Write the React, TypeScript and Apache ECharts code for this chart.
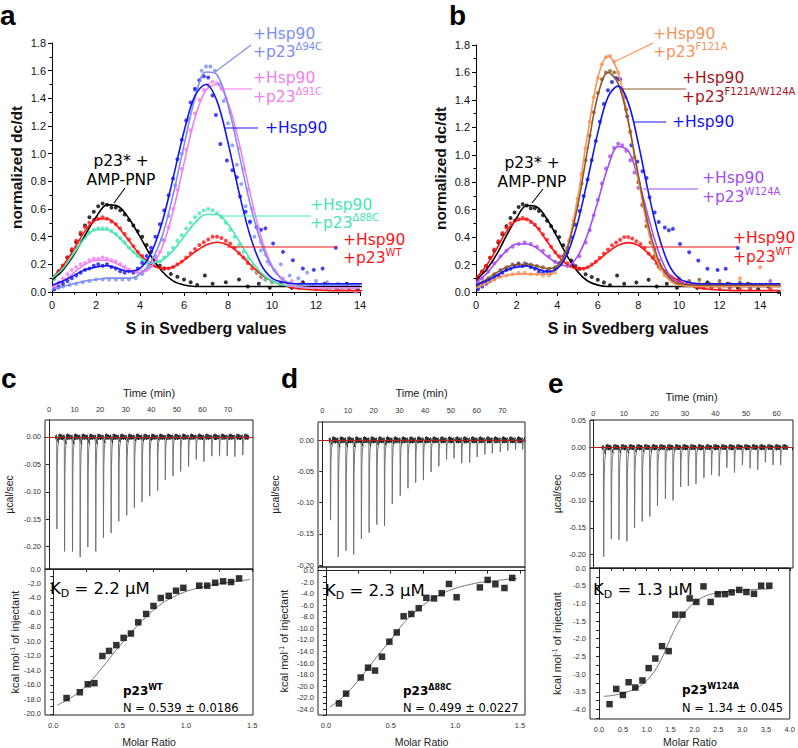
import React, { useEffect, useRef } from 'react';
import * as echarts from 'echarts';

// ---------- Panels a / b : sedimentation velocity, [S, normalized dc/dt] ----------
const blackPts = [[0.1,0.11],[0.3,0.15],[0.5,0.19],[0.7,0.25],[0.9,0.30],[1.1,0.36],[1.3,0.42],[1.5,0.48],[1.7,0.54],[1.9,0.58],[2.1,0.62],[2.3,0.64],[2.5,0.63],[2.7,0.61],[2.9,0.61],[3.1,0.59],[3.3,0.56],[3.5,0.52],[3.7,0.48],[3.9,0.44],[4.1,0.40],[4.3,0.34],[4.5,0.29],[4.7,0.23],[4.9,0.19],[5.1,0.17],[5.4,0.13],[5.7,0.11],[6.0,0.09],[6.3,0.07],[6.6,0.05],[6.95,0.12],[7.3,0.06],[7.9,0.07],[8.5,0.09],[8.9,0.04],[9.4,0.06],[9.9,0.03],[10.4,0.06],[10.9,0.03],[11.4,0.07],[11.9,0.05],[12.4,0.06],[12.9,0.03],[13.4,0.06],[13.9,0.02],[14.4,0.04],[14.9,0.0]];
const blackFit = [[0,0.09],[0.5,0.16],[1,0.27],[1.5,0.41],[2,0.54],[2.5,0.63],[3,0.62],[3.5,0.53],[4,0.40],[4.5,0.26],[5,0.15],[5.5,0.08],[6,0.05],[6.5,0.04],[7,0.04],[8,0.04],[9,0.04],[10,0.04],[11,0.04],[12,0.04],[13,0.04],[14,0.04],[15,0.04]];

const redPts = [[0.1,0.10],[0.3,0.14],[0.5,0.19],[0.7,0.25],[0.9,0.31],[1.1,0.37],[1.3,0.43],[1.5,0.47],[1.7,0.50],[1.9,0.52],[2.1,0.53],[2.3,0.54],[2.5,0.53],[2.7,0.51],[2.9,0.49],[3.1,0.46],[3.3,0.42],[3.5,0.38],[3.7,0.33],[3.9,0.29],[4.1,0.26],[4.3,0.23],[4.5,0.21],[4.7,0.19],[4.9,0.18],[5.1,0.17],[5.3,0.17],[5.5,0.18],[5.7,0.20],[5.9,0.22],[6.1,0.25],[6.3,0.28],[6.5,0.31],[6.7,0.34],[6.9,0.36],[7.1,0.38],[7.3,0.40],[7.5,0.40],[7.7,0.39],[7.9,0.37],[8.1,0.35],[8.3,0.32],[8.5,0.28],[8.7,0.25],[8.9,0.21],[9.1,0.17],[9.3,0.14],[9.5,0.11],[9.7,0.09],[10.0,0.07],[10.4,0.05],[10.8,0.04],[11.2,0.03],[11.6,0.03],[12.0,0.02],[12.5,0.03],[13.0,0.02],[13.5,0.02],[14.5,0.02]];
const redFit = [[0,0.10],[0.5,0.19],[1,0.31],[1.5,0.44],[2,0.52],[2.5,0.53],[3,0.47],[3.5,0.37],[4,0.27],[4.5,0.20],[5,0.17],[5.5,0.18],[6,0.23],[6.5,0.29],[7,0.34],[7.5,0.36],[8,0.34],[8.5,0.28],[9,0.20],[9.5,0.13],[10,0.08],[10.5,0.05],[11,0.03],[11.5,0.02],[12,0.015],[13,0.01],[14,0.01],[15,0.01]];

const aquaPts = [[0.1,0.09],[0.3,0.13],[0.5,0.17],[0.7,0.22],[0.9,0.27],[1.1,0.32],[1.3,0.37],[1.5,0.40],[1.7,0.43],[1.9,0.45],[2.1,0.46],[2.3,0.46],[2.5,0.46],[2.7,0.44],[2.9,0.42],[3.1,0.39],[3.3,0.36],[3.5,0.32],[3.7,0.29],[3.9,0.26],[4.1,0.23],[4.3,0.21],[4.5,0.20],[4.7,0.21],[4.9,0.22],[5.1,0.25],[5.3,0.28],[5.5,0.32],[5.7,0.37],[5.9,0.41],[6.1,0.46],[6.3,0.50],[6.5,0.54],[6.7,0.57],[6.9,0.59],[7.1,0.60],[7.3,0.59],[7.5,0.57],[7.7,0.54],[7.9,0.50],[8.1,0.45],[8.3,0.40],[8.5,0.34],[8.7,0.29],[8.9,0.24],[9.1,0.19],[9.3,0.15],[9.5,0.12],[9.7,0.09],[10.0,0.07],[10.4,0.05],[10.8,0.05],[11.2,0.04],[11.6,0.03],[12.0,0.04],[12.6,0.02],[13.2,0.03],[13.8,0.03]];
const aquaFit = [[0,0.10],[0.5,0.17],[1,0.28],[1.5,0.39],[2,0.45],[2.5,0.45],[3,0.40],[3.5,0.32],[4,0.25],[4.5,0.21],[5,0.23],[5.5,0.30],[6,0.40],[6.5,0.50],[7,0.56],[7.5,0.56],[8,0.49],[8.5,0.37],[9,0.24],[9.5,0.14],[10,0.08],[10.5,0.05],[11,0.04],[12,0.03],[13,0.03],[14,0.03]];

const pinkPts = [[0.1,0.04],[0.3,0.07],[0.5,0.10],[0.7,0.13],[0.9,0.16],[1.1,0.18],[1.3,0.20],[1.5,0.21],[1.7,0.23],[1.9,0.24],[2.1,0.24],[2.3,0.25],[2.5,0.24],[2.7,0.23],[2.9,0.22],[3.1,0.20],[3.3,0.18],[3.5,0.16],[3.7,0.15],[3.9,0.14],[4.1,0.15],[4.3,0.16],[4.5,0.19],[4.7,0.23],[4.9,0.29],[5.1,0.37],[5.3,0.47],[5.5,0.60],[5.7,0.74],[5.9,0.89],[6.1,1.03],[6.3,1.17],[6.5,1.29],[6.7,1.39],[6.9,1.46],[7.1,1.50],[7.3,1.52],[7.5,1.51],[7.7,1.47],[7.9,1.40],[8.1,1.30],[8.3,1.18],[8.5,1.04],[8.7,0.89],[8.9,0.74],[9.1,0.60],[9.3,0.47],[9.5,0.36],[9.7,0.27],[9.9,0.20],[10.2,0.14],[10.5,0.10],[10.9,0.08],[11.3,0.06],[11.7,0.05],[12.2,0.04],[12.7,0.04],[13.2,0.02],[13.8,0.0]];
const pinkFit = [[0,0.03],[0.5,0.08],[1,0.14],[1.5,0.20],[2,0.23],[2.5,0.23],[3,0.20],[3.5,0.16],[4,0.14],[4.5,0.18],[5,0.32],[5.5,0.58],[6,0.93],[6.5,1.26],[7,1.46],[7.5,1.50],[8,1.37],[8.5,1.08],[9,0.72],[9.5,0.40],[10,0.19],[10.5,0.08],[11,0.04],[12,0.03],[13,0.03],[14,0.03]];

const ltBluePts = [[0.1,0.02],[0.3,0.03],[0.5,0.04],[0.8,0.05],[1.1,0.06],[1.4,0.07],[1.7,0.08],[2.0,0.09],[2.3,0.09],[2.6,0.09],[2.9,0.09],[3.2,0.09],[3.5,0.09],[3.8,0.10],[4.1,0.13],[4.4,0.18],[4.7,0.26],[5.0,0.38],[5.3,0.55],[5.6,0.77],[5.9,1.00],[6.2,1.25],[6.5,1.46],[6.8,1.60],[7.0,1.63],[7.2,1.63],[7.4,1.60],[7.6,1.50],[7.8,1.38],[8.0,1.22],[8.2,1.06],[8.4,0.92],[8.6,0.78],[8.8,0.62],[9.0,0.50],[9.2,0.40],[9.5,0.30],[9.8,0.22],[10.1,0.16],[10.4,0.20],[10.8,0.12],[11.2,0.10],[11.6,0.14],[12.0,0.08],[12.5,0.07],[13.0,0.06]];
const ltBlueFit = [[0,0.02],[0.5,0.04],[1,0.06],[1.5,0.08],[2,0.09],[2.5,0.10],[3,0.10],[3.5,0.10],[4,0.13],[4.5,0.22],[5,0.40],[5.5,0.70],[6,1.06],[6.5,1.40],[7,1.59],[7.5,1.57],[8,1.35],[8.5,1.00],[9,0.64],[9.5,0.36],[10,0.18],[10.5,0.09],[11,0.06],[12,0.05],[13,0.05],[14,0.05]];

const bluePts = [[0.1,0.02],[0.3,0.04],[0.5,0.06],[0.7,0.08],[0.9,0.10],[1.1,0.12],[1.3,0.14],[1.5,0.16],[1.7,0.17],[1.9,0.19],[2.1,0.20],[2.3,0.19],[2.5,0.20],[2.7,0.18],[2.9,0.17],[3.1,0.15],[3.3,0.14],[3.5,0.15],[3.7,0.14],[3.9,0.17],[4.1,0.21],[4.3,0.26],[4.5,0.32],[4.7,0.40],[4.9,0.49],[5.1,0.59],[5.3,0.70],[5.5,0.82],[5.7,0.96],[5.9,1.10],[6.1,1.24],[6.3,1.37],[6.5,1.47],[6.7,1.53],[6.9,1.56],[7.1,1.55],[7.3,1.42],[7.45,1.28],[7.65,1.07],[7.95,0.95],[8.2,0.88],[8.4,0.83],[8.55,0.69],[8.8,0.58],[9.0,0.51],[9.3,0.47],[9.5,0.45],[9.7,0.46],[10.05,0.35],[10.5,0.29],[10.95,0.23],[11.4,0.17],[11.9,0.16],[12.3,0.17],[12.9,0.32]];
const blueFit = [[0,0.05],[0.5,0.08],[1,0.12],[1.5,0.16],[2,0.18],[2.5,0.19],[3,0.17],[3.5,0.15],[4,0.17],[4.5,0.28],[5,0.50],[5.5,0.82],[6,1.16],[6.5,1.42],[7,1.50],[7.5,1.38],[8,1.08],[8.5,0.72],[9,0.41],[9.5,0.20],[10,0.10],[10.5,0.07],[11,0.06],[12,0.06],[13,0.06],[14,0.06],[15,0.06]];

const orangePts = [[0.1,0.03],[0.3,0.05],[0.6,0.07],[0.9,0.09],[1.2,0.11],[1.5,0.12],[1.8,0.13],[2.1,0.14],[2.4,0.14],[2.7,0.13],[3.0,0.13],[3.3,0.12],[3.6,0.12],[3.9,0.14],[4.2,0.20],[4.4,0.28],[4.6,0.38],[4.8,0.52],[5.0,0.68],[5.2,0.86],[5.4,1.05],[5.6,1.24],[5.8,1.42],[6.0,1.56],[6.2,1.66],[6.4,1.71],[6.6,1.72],[6.8,1.68],[7.0,1.60],[7.2,1.48],[7.4,1.33],[7.6,1.16],[7.8,0.98],[8.0,0.80],[8.2,0.64],[8.4,0.48],[8.6,0.36],[8.8,0.26],[9.0,0.18],[9.3,0.12],[9.6,0.09],[10.0,0.07],[10.5,0.06],[11.0,0.06],[11.5,0.05],[12.0,0.06],[12.5,0.05],[13.0,0.10],[13.5,0.06],[14.0,0.18],[14.4,0.05]];
const orangeFit = [[0,0.03],[0.5,0.06],[1,0.10],[1.5,0.12],[2,0.13],[2.5,0.13],[3,0.13],[3.5,0.13],[4,0.17],[4.5,0.33],[5,0.68],[5.5,1.15],[6,1.56],[6.5,1.72],[7,1.60],[7.5,1.25],[8,0.82],[8.5,0.44],[9,0.20],[9.5,0.09],[10,0.05],[11,0.04],[12,0.04],[13,0.04],[14,0.04],[15,0.04]];

const brownPts = [[0.1,0.05],[0.3,0.07],[0.6,0.10],[0.9,0.13],[1.2,0.16],[1.5,0.18],[1.8,0.20],[2.1,0.21],[2.4,0.21],[2.7,0.20],[3.0,0.19],[3.3,0.18],[3.6,0.17],[3.9,0.18],[4.2,0.22],[4.4,0.28],[4.6,0.37],[4.8,0.49],[5.0,0.63],[5.2,0.79],[5.4,0.96],[5.6,1.14],[5.8,1.31],[6.0,1.45],[6.2,1.55],[6.4,1.60],[6.6,1.61],[6.8,1.60],[7.0,1.55],[7.2,1.46],[7.4,1.33],[7.6,1.17],[7.8,0.98],[8.0,0.80],[8.2,0.63],[8.4,0.48],[8.6,0.36],[8.8,0.26],[9.0,0.19],[9.3,0.14],[9.6,0.11],[10.0,0.10],[10.5,0.08],[11.0,0.09],[11.5,0.06],[12.0,0.08],[12.5,0.06],[13.0,0.07],[13.5,0.05],[14.0,0.05]];
const brownFit = [[0,0.05],[0.5,0.09],[1,0.14],[1.5,0.18],[2,0.20],[2.5,0.20],[3,0.19],[3.5,0.17],[4,0.19],[4.5,0.32],[5,0.62],[5.5,1.04],[6,1.43],[6.5,1.60],[7,1.52],[7.5,1.24],[8,0.85],[8.5,0.48],[9,0.23],[9.5,0.11],[10,0.06],[11,0.05],[12,0.05],[13,0.05],[14,0.05],[15,0.05]];

const purplePts = [[0.1,0.07],[0.3,0.10],[0.6,0.15],[0.9,0.21],[1.2,0.26],[1.5,0.30],[1.8,0.33],[2.1,0.35],[2.4,0.36],[2.7,0.35],[3.0,0.33],[3.3,0.30],[3.6,0.26],[3.9,0.22],[4.2,0.20],[4.5,0.19],[4.8,0.20],[5.1,0.26],[5.4,0.36],[5.6,0.45],[5.8,0.56],[6.0,0.67],[6.2,0.79],[6.4,0.90],[6.6,0.99],[6.8,1.05],[7.0,1.08],[7.2,1.07],[7.4,1.03],[7.6,0.96],[7.8,0.87],[8.0,0.76],[8.2,0.64],[8.4,0.52],[8.6,0.41],[8.8,0.31],[9.0,0.23],[9.3,0.15],[9.6,0.10],[10.0,0.08],[10.5,0.06],[11.0,0.05],[11.5,0.05],[12.0,0.05],[12.5,0.04],[13.0,0.06],[13.5,0.04],[14.0,0.05],[14.5,0.08]];
const purpleFit = [[0,0.07],[0.5,0.13],[1,0.22],[1.5,0.30],[2,0.35],[2.5,0.35],[3,0.32],[3.5,0.26],[4,0.21],[4.5,0.19],[5,0.26],[5.5,0.42],[6,0.66],[6.5,0.91],[7,1.06],[7.5,1.03],[8,0.82],[8.5,0.54],[9,0.29],[9.5,0.13],[10,0.07],[11,0.05],[12,0.05],[13,0.05],[14,0.05],[15,0.05]];

// ---------- Panels c / d / e : ITC ----------
// raw thermogram: injection time (min) and peak depth (µcal/sec)
const cInjTime = [3.0,6.0,9.1,12.1,15.1,18.2,21.2,24.2,27.2,30.3,33.3,36.3,39.3,42.4,45.4,48.4,51.4,54.5,57.5,60.5,63.6,66.6,69.6,72.6,75.7];
const cInjPeak = [-0.168,-0.209,-0.209,-0.219,-0.201,-0.209,-0.184,-0.175,-0.154,-0.143,-0.129,-0.119,-0.108,-0.098,-0.078,-0.071,-0.063,-0.054,-0.041,-0.045,-0.035,-0.035,-0.035,-0.036,-0.033];
const dInjTime = [3.1,6.1,9.1,12.1,15.1,18.1,21.1,24.1,27.1,30.2,33.2,36.2,39.2,42.2,45.2,48.2,51.1,54.1,57.2,60.1,63.1,66.0,69.1,72.0,75.0,77.8];
const dInjPeak = [-0.128,-0.187,-0.177,-0.183,-0.158,-0.148,-0.135,-0.137,-0.102,-0.089,-0.077,-0.068,-0.064,-0.051,-0.042,-0.031,-0.029,-0.037,-0.036,-0.027,-0.023,-0.021,-0.019,-0.017,-0.015,-0.015];
const eInjTime = [3.3,5.8,8.3,10.9,13.4,15.9,18.4,20.9,23.5,26.0,28.5,31.0,33.5,36.1,38.6,41.1,43.6,46.1,48.7,51.2,53.7,56.2,58.7,61.2];
const eInjPeak = [-0.204,-0.171,-0.172,-0.175,-0.150,-0.138,-0.129,-0.109,-0.096,-0.099,-0.074,-0.072,-0.068,-0.057,-0.051,-0.054,-0.038,-0.047,-0.033,-0.039,-0.042,-0.028,-0.033,-0.033];

// integrated heats: molar ratio and kcal/mol of injectant
const cRatio = [0.10,0.20,0.26,0.31,0.37,0.42,0.475,0.53,0.585,0.64,0.70,0.755,0.81,0.87,0.925,0.98,1.10,1.16,1.22,1.28,1.34,1.40];
const cHeat = [-17.8,-17.0,-15.9,-15.75,-12.0,-11.3,-10.5,-9.5,-8.9,-7.35,-6.2,-5.1,-4.0,-3.7,-3.0,-2.6,-2.3,-2.3,-1.9,-1.7,-1.8,-1.3];
const cFit = [[0.03,-18.8],[0.1,-18.1],[0.2,-16.9],[0.3,-15.1],[0.4,-12.9],[0.5,-10.6],[0.6,-8.5],[0.7,-6.6],[0.8,-5.0],[0.9,-3.9],[1.0,-3.1],[1.1,-2.6],[1.2,-2.2],[1.3,-1.9],[1.4,-1.65],[1.48,-1.45]];

const dRatio = [0.10,0.155,0.268,0.325,0.379,0.433,0.49,0.547,0.60,0.66,0.717,0.776,0.835,0.895,0.951,1.01,1.19,1.25,1.31,1.38,1.44];
const dHeat = [-23.0,-21.3,-18.5,-16.8,-17.3,-14.9,-12.3,-10.7,-7.9,-7.5,-6.5,-4.7,-4.8,-3.9,-2.3,-4.6,-2.9,-1.6,-2.35,-3.0,-1.25];
const dFit = [[0.03,-23.6],[0.1,-22.5],[0.2,-20.3],[0.3,-17.6],[0.4,-14.7],[0.5,-12.0],[0.6,-9.1],[0.7,-6.9],[0.8,-5.2],[0.9,-3.95],[1.0,-3.05],[1.1,-2.45],[1.2,-2.0],[1.3,-1.75],[1.4,-1.5],[1.48,-1.35]];

const eRatio = [0.22,0.36,0.50,0.62,0.76,0.91,1.04,1.18,1.32,1.46,1.60,1.75,1.90,2.04,2.19,2.34,2.49,2.64,2.78,2.94,3.09,3.25,3.40,3.57];
const eHeat = [-3.85,-3.42,-3.59,-3.23,-3.38,-3.18,-2.83,-2.56,-2.21,-2.35,-1.32,-1.32,-0.86,-0.96,-0.52,-0.96,-0.74,-0.74,-0.69,-0.62,-0.68,-0.73,-0.50,-0.50];
const eFit = [[0.1,-3.63],[0.3,-3.6],[0.5,-3.54],[0.7,-3.45],[0.9,-3.3],[1.1,-3.03],[1.3,-2.6],[1.5,-1.98],[1.7,-1.45],[1.9,-1.1],[2.1,-0.88],[2.3,-0.76],[2.5,-0.70],[2.8,-0.65],[3.1,-0.62],[3.4,-0.60],[3.6,-0.59]];

// tick label positions
const timeTicksCD = [0,10,20,30,40,50,60,70];
const timeTicksE = [0,10,20,30,40,50,60];
const ucalTicks = [0,-0.05,-0.1,-0.15,-0.2];
const ucalTicksE = [0.05,0,-0.05,-0.1,-0.15,-0.2];
const kcalTicksC = [0,-2,-4,-6,-8,-10,-12,-14,-16,-18,-20];
const kcalTicksD = [0,-2,-4,-6,-8,-10,-12,-14,-16,-18,-20,-22,-24];
const kcalTicksE = [0,-0.5,-1,-1.5,-2,-2.5,-3,-3.5,-4];
const ratioTicksCD = [0,0.5,1,1.5];
const ratioTicksE = [0,0.5,1,1.5,2,2.5,3,3.5,4];

const C = {
  black: '#000000', red: '#ff1414', aqua: '#45e6b4', pink: '#f27ef0', ltBlue: '#7c8ef2',
  blue: '#1414f0', orange: '#f7945a', brown: '#8b5a2b', darkRed: '#a3141c', purple: '#a44cf0',
};

const W = 798, H = 748;
const FF = 'Liberation Sans, Arial, sans-serif';
const DJ = 'DejaVu Sans, Verdana, sans-serif';

function range(a: number, b: number, s: number) {
  const out: number[] = [];
  for (let v = a; v <= b + 1e-9; v += s) out.push(Math.round(v * 1000) / 1000);
  return out;
}

function spikeItem(params: any, api: any) {
  const t = api.value(0), d = api.value(1);
  const needle = [[-0.3,0.0],[0,d*0.05],[0.1,d],[0.25,d*0.3],[0.45,d*0.12],[0.75,d*0.05]];
  const noise = [[-0.5,0.003],[-0.3,-0.004],[-0.1,0.004],[0.6,d*0.06],[0.9,0.005],[1.1,-0.005],[1.3,0.006],[1.5,-0.004],[1.7,0.005],[1.9,-0.005],[2.1,0.004],[2.3,-0.004],[2.5,0.003]];
  const toPx = (arr: number[][]) => arr.map(([dt, v]) => api.coord([t + dt, v]));
  return {
    type: 'group',
    children: [
      { type: 'polyline', shape: { points: toPx(needle) }, style: { stroke: '#6a6a6a', fill: 'none', lineWidth: 0.9 } },
      { type: 'polyline', shape: { points: toPx(noise) }, style: { stroke: '#1a1a1a', fill: 'none', lineWidth: 0.8 } },
    ],
  };
}

function buildOption() {
  const grid = [
    { left: 52, top: 43, width: 308, height: 249 },
    { left: 476, top: 45, width: 304.5, height: 247 },
    { left: 45, top: 420, width: 208, height: 149, show: true, borderColor: '#222', borderWidth: 1 },
    { left: 45, top: 569, width: 208, height: 147, show: true, borderColor: '#222', borderWidth: 1 },
    { left: 318, top: 422, width: 207, height: 145, show: true, borderColor: '#222', borderWidth: 1 },
    { left: 318, top: 567, width: 207, height: 149, show: true, borderColor: '#222', borderWidth: 1 },
    { left: 590, top: 420, width: 203, height: 148, show: true, borderColor: '#222', borderWidth: 1 },
    { left: 590, top: 568, width: 203, height: 152, show: true, borderColor: '#222', borderWidth: 1 },
  ];

  const sAxis = (gi: number, max: number) => ({
    gridIndex: gi, type: 'value', min: 0, max, interval: 2,
    axisLine: { lineStyle: { color: '#000', width: 1 } },
    axisTick: { length: 4, lineStyle: { color: '#000' } },
    minorTick: { show: true, splitNumber: 2, length: 2.5, lineStyle: { color: '#000' } },
    axisLabel: { fontSize: 11, color: '#111', margin: 7, fontFamily: FF, formatter: (v: number) => (Math.abs(v % 2) < 1e-9 ? String(v) : '') },
    splitLine: { show: false }, minorSplitLine: { show: false },
    name: 'S in Svedberg values', nameLocation: 'middle', nameGap: 28,
    nameTextStyle: { fontSize: 16, fontWeight: 'bold', color: '#111', fontFamily: FF },
  });
  const dcAxis = (gi: number) => ({
    gridIndex: gi, type: 'value', min: 0, max: 1.8, interval: 0.2,
    axisLine: { show: true, lineStyle: { color: '#000' } },
    axisTick: { show: true, length: 4, lineStyle: { color: '#000' } },
    minorTick: { show: true, splitNumber: 2, length: 2.5, lineStyle: { color: '#000' } },
    axisLabel: { fontSize: 11, color: '#111', margin: 6, fontFamily: FF, formatter: (v: number) => v.toFixed(1) },
    splitLine: { show: false }, minorSplitLine: { show: false },
    name: 'normalized dc/dt', nameLocation: 'middle', nameGap: 28,
    nameTextStyle: { fontSize: 15.5, fontWeight: 'bold', color: '#111', fontFamily: FF },
  });

  const smallLabel = { fontSize: 7.5, color: '#333', fontFamily: FF };
  const timeAxis = (gi: number, min: number, max: number, labels: number[], gap: number, margin: number) => ({
    gridIndex: gi, type: 'value', position: 'top', min, max,
    axisLine: { show: true, lineStyle: { color: '#222' } },
    axisTick: { show: true, inside: true, length: 3, customValues: range(0, max, 5), lineStyle: { color: '#222' } },
    axisLabel: { ...smallLabel, margin, customValues: labels, formatter: (v: number) => String(Math.round(v)) },
    splitLine: { show: false },
    name: 'Time (min)', nameLocation: 'middle', nameGap: gap,
    nameTextStyle: { fontSize: 11, color: '#222', fontFamily: FF },
  });
  const ucalAxis = (gi: number, min: number, max: number, labels: number[], gap: number) => ({
    gridIndex: gi, type: 'value', min, max,
    axisLine: { show: true, lineStyle: { color: '#222' } },
    axisTick: { show: true, length: 3, customValues: labels, lineStyle: { color: '#222' } },
    axisLabel: { ...smallLabel, margin: 4, customValues: labels, formatter: (v: number) => v.toFixed(2) },
    splitLine: { show: false },
    name: 'µcal/sec', nameLocation: 'middle', nameGap: gap,
    nameTextStyle: { fontSize: 10.5, color: '#222', fontFamily: FF },
  });
  const ratioAxis = (gi: number, min: number, max: number, labels: number[], tickStep: number, gap: number) => ({
    gridIndex: gi, type: 'value', min, max,
    axisLine: { show: true, lineStyle: { color: '#222' } },
    axisTick: { show: true, length: 3, customValues: range(0, max, tickStep), lineStyle: { color: '#222' } },
    axisLabel: { ...smallLabel, margin: 6, customValues: labels, formatter: (v: number) => v.toFixed(1) },
    splitLine: { show: false },
    name: 'Molar Ratio', nameLocation: 'middle', nameGap: gap,
    nameTextStyle: { fontSize: 10.5, color: '#222', fontFamily: FF },
  });
  const kcalAxis = (gi: number, min: number, max: number, labels: number[], tickStep: number, gap: number) => ({
    gridIndex: gi, type: 'value', min, max,
    axisLine: { show: true, lineStyle: { color: '#222' } },
    axisTick: { show: true, length: 3, customValues: range(Math.ceil(min / tickStep) * tickStep, 0, tickStep), lineStyle: { color: '#222' } },
    axisLabel: { ...smallLabel, margin: 4, customValues: labels, formatter: (v: number) => v.toFixed(1) },
    splitLine: { show: false },
    name: 'kcal mol{sup|-1} of injectant', nameLocation: 'middle', nameGap: gap,
    nameTextStyle: { fontSize: 11, color: '#222', fontFamily: FF, rich: { sup: { fontSize: 7, verticalAlign: 'top', color: '#222', fontFamily: FF } } },
  });

  const xAxis = [
    sAxis(0, 14), sAxis(1, 15),
    timeAxis(2, -1.56, 79.8, timeTicksCD, 22, 7), ratioAxis(3, -0.0625, 1.505, ratioTicksCD, 0.25, 21),
    timeAxis(4, -1.67, 78.8, timeTicksCD, 24, 8), ratioAxis(5, -0.062, 1.539, ratioTicksCD, 0.25, 21),
    timeAxis(6, -1.08, 65.35, timeTicksE, 18, 3), ratioAxis(7, -0.19, 4.0, ratioTicksE, 0.25, 17),
  ];
  const yAxis = [
    dcAxis(0), dcAxis(1),
    ucalAxis(2, -0.241, 0.031, ucalTicks, 31), kcalAxis(3, -20.14, 0, kcalTicksC, 1, 22),
    ucalAxis(4, -0.203, 0.029, ucalTicks, 38), kcalAxis(5, -25.0, 0.64, kcalTicksD, 1, 29),
    ucalAxis(6, -0.225, 0.051, ucalTicksE, 28), kcalAxis(7, -4.27, 0, kcalTicksE, 0.25, 28),
  ];

  const pts = (data: number[][], color: string, i: number) => ({
    type: 'scatter', xAxisIndex: i, yAxisIndex: i, data, symbolSize: 4, silent: true, z: 2,
    itemStyle: { color }, clip: true,
  });
  const fit = (data: number[][], color: string, i: number) => ({
    type: 'line', xAxisIndex: i, yAxisIndex: i, data, smooth: 0.35, showSymbol: false, symbol: 'none',
    silent: true, z: 3, lineStyle: { color, width: 1.6 }, clip: true,
  });

  const aSets: [number[][], number[][], string][] = [
    [blackPts, blackFit, C.black], [redPts, redFit, C.red], [aquaPts, aquaFit, C.aqua],
    [pinkPts, pinkFit, C.pink], [ltBluePts, ltBlueFit, C.ltBlue], [bluePts, blueFit, C.blue],
  ];
  const bSets: [number[][], number[][], string][] = [
    [blackPts, blackFit, C.black], [redPts, redFit, C.red], [purplePts, purpleFit, C.purple],
    [orangePts, orangeFit, C.orange], [brownPts, brownFit, C.brown], [bluePts, blueFit, C.blue],
  ];

  const series: any[] = [];
  aSets.forEach(([p, , c]) => series.push(pts(p, c, 0)));
  aSets.forEach(([, f, c]) => series.push(fit(f, c, 0)));
  bSets.forEach(([p, , c]) => series.push(pts(p, c, 1)));
  bSets.forEach(([, f, c]) => series.push(fit(f, c, 1)));

  const itc = [
    { top: 2, bot: 3, time: cInjTime, peak: cInjPeak, ratio: cRatio, heat: cHeat, fitData: cFit },
    { top: 4, bot: 5, time: dInjTime, peak: dInjPeak, ratio: dRatio, heat: dHeat, fitData: dFit },
    { top: 6, bot: 7, time: eInjTime, peak: eInjPeak, ratio: eRatio, heat: eHeat, fitData: eFit },
  ];
  itc.forEach((p) => {
    series.push({
      type: 'custom', xAxisIndex: p.top, yAxisIndex: p.top, silent: true, clip: true,
      data: p.time.map((t, i) => [t, p.peak[i]]), renderItem: spikeItem,
      markLine: { silent: true, symbol: 'none', label: { show: false }, lineStyle: { color: '#e02020', width: 0.8, type: 'solid' }, data: [{ yAxis: 0 }] },
    });
    series.push({
      type: 'line', xAxisIndex: p.bot, yAxisIndex: p.bot, data: p.fitData, smooth: 0.4, showSymbol: false,
      symbol: 'none', silent: true, lineStyle: { color: '#666', width: 0.9 }, z: 2,
    });
    series.push({
      type: 'scatter', xAxisIndex: p.bot, yAxisIndex: p.bot, data: p.ratio.map((r, i) => [r, p.heat[i]]),
      symbol: 'rect', symbolSize: 6.5, silent: true, itemStyle: { color: '#000' }, z: 3,
    });
  });

  // ---------- annotations ----------
  const richSup = (size: number, supSize: number, color: string, bold = false, family = DJ) => ({
    m: { fontSize: size, fontFamily: family, fill: color, color, lineHeight: size * 1.3, verticalAlign: 'middle', fontWeight: bold ? 'bold' : 'normal' },
    s: { fontSize: supSize, fontFamily: family, fill: color, color, lineHeight: supSize, verticalAlign: 'top', fontWeight: bold ? 'bold' : 'normal' },
    b: { fontSize: supSize, fontFamily: family, fill: color, color, lineHeight: supSize, verticalAlign: 'bottom', fontWeight: bold ? 'bold' : 'normal' },
  });
  const txt = (x: number, y: number, text: string, color: string, size = 15.5, supSize = 10, align = 'left', bold = false, family = DJ) => ({
    type: 'text', x, y, silent: true, z: 10,
    style: {
      text, fill: color, fontSize: size, fontFamily: family, fontWeight: bold ? 'bold' : 'normal',
      align, verticalAlign: 'middle', textAlign: align, textVerticalAlign: 'middle',
      rich: richSup(size, supSize, color, bold, family),
    },
  });
  const ln = (x1: number, y1: number, x2: number, y2: number, color: string) => ({
    type: 'line', silent: true, z: 9, shape: { x1, y1, x2, y2 }, style: { stroke: color, lineWidth: 1.1 },
  });

  const graphic: any[] = [
    // panel letters
    txt(0, 15, 'a', '#000', 28, 10, 'left', true, FF),
    txt(449, 15, 'b', '#000', 28, 10, 'left', true, FF),
    txt(1, 378, 'c', '#000', 28, 10, 'left', true, FF),
    txt(281, 378, 'd', '#000', 28, 10, 'left', true, FF),
    txt(548, 383, 'e', '#000', 28, 10, 'left', true, FF),
    // panel a
    txt(253, 34, '{m|+Hsp90}', C.ltBlue), txt(253, 52, '{m|+p23}{s|Δ94C}', C.ltBlue), ln(215, 72, 251, 45, C.ltBlue),
    txt(253, 78, '{m|+Hsp90}', C.pink), txt(253, 97, '{m|+p23}{s|Δ91C}', C.pink), ln(220, 89, 252, 89, C.pink),
    txt(265, 128, '{m|+Hsp90}', C.blue), ln(224, 128, 258, 128, C.blue),
    txt(121, 161, '{m|p23* +}', '#000', 15.5, 10, 'center'), txt(121, 180, '{m|AMP-PNP}', '#000', 15.5, 10, 'center'), ln(125, 188, 114, 203, '#000'),
    txt(310, 205, '{m|+Hsp90}', C.aqua), txt(310, 223, '{m|+p23}{s|Δ88C}', C.aqua), ln(220, 216, 311, 216, C.aqua),
    txt(343, 240, '{m|+Hsp90}', C.red), txt(343, 258, '{m|+p23}{s|WT}', C.red), ln(227, 247, 337, 247, C.red),
    // panel b
    txt(653, 34, '{m|+Hsp90}', C.orange), txt(653, 52, '{m|+p23}{s|F121A}', C.orange), ln(614, 62, 653, 43, C.orange),
    txt(682, 78, '{m|+Hsp90}', C.darkRed), txt(682, 97, '{m|+p23}{s|F121A/W124A}', C.darkRed), ln(622, 89, 686, 89, C.brown),
    txt(672, 122, '{m|+Hsp90}', C.blue), ln(633, 122, 666, 122, C.blue),
    txt(532, 163, '{m|p23* +}', '#000', 15.5, 10, 'center'), txt(532, 182, '{m|AMP-PNP}', '#000', 15.5, 10, 'center'), ln(543, 189, 532, 203, '#000'),
    txt(702, 178, '{m|+Hsp90}', C.purple), txt(702, 197, '{m|+p23}{s|W124A}', C.purple), ln(643, 189, 698, 189, C.purple),
    txt(733, 238, '{m|+Hsp90}', C.red), txt(733, 257, '{m|+p23}{s|WT}', C.red), ln(640, 247, 737, 247, C.red),
    // ITC text
    txt(50, 588, '{m|K}{b|D}{m| = 2.2 µM}', '#000', 16.5, 11),
    txt(123, 691, '{m|p23}{s|WT}', '#000', 12, 8, 'left', true),
    txt(123, 708, '{m|N = 0.539 ± 0.0186}', '#000', 11.5, 8),
    txt(325, 590, '{m|K}{b|D}{m| = 2.3 µM}', '#000', 16.5, 11),
    txt(403, 691, '{m|p23}{s|Δ88C}', '#000', 12, 8, 'left', true),
    txt(403, 708, '{m|N = 0.499 ± 0.0227}', '#000', 11.5, 8),
    txt(593, 589, '{m|K}{b|D}{m| = 1.3 µM}', '#000', 16.5, 11),
    txt(682, 690, '{m|p23}{s|W124A}', '#000', 12, 8, 'left', true),
    txt(682, 708, '{m|N = 1.34 ± 0.045}', '#000', 11.5, 8),
  ];

  return {
    animation: false,
    backgroundColor: '#ffffff',
    textStyle: { fontFamily: FF },
    grid, xAxis, yAxis, series, graphic,
  };
}

export default function App() {
  const ref = useRef<HTMLDivElement>(null);
  useEffect(() => {
    const chart = echarts.init(ref.current as HTMLDivElement, null, { renderer: 'svg', width: W, height: H });
    chart.setOption(buildOption() as any);
    return () => chart.dispose();
  }, []);
  return <div ref={ref} style={{ position: 'fixed', left: 0, top: 0, width: W, height: H, background: '#fff' }} />;
}
